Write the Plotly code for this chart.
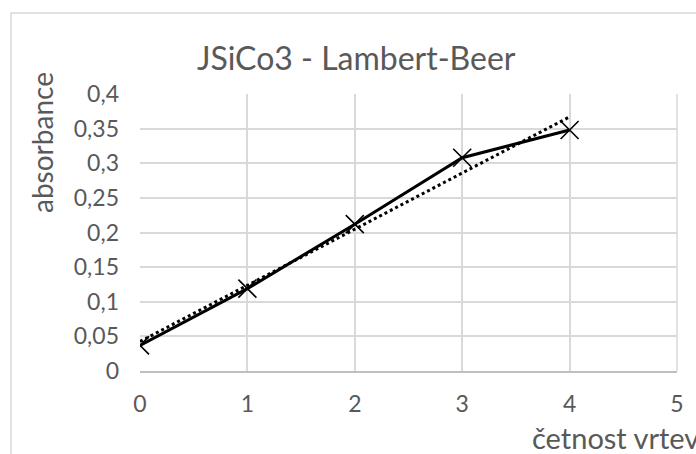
import numpy as np
import plotly.graph_objects as go

# Measurements: number of layers vs. absorbance
vrstvy = [0, 1, 2, 3, 4]
absorbance = [0.037, 0.119, 0.212, 0.308, 0.348]

y_ticks = [0, 0.05, 0.1, 0.15, 0.2, 0.25, 0.3, 0.35, 0.4]
y_tick_labels = ["0", "0,05", "0,1", "0,15", "0,2", "0,25", "0,3", "0,35", "0,4"]
x_ticks = [0, 1, 2, 3, 4, 5]
x_tick_labels = ["0", "1", "2", "3", "4", "5"]

title_text = "JSiCo3 - Lambert-Beer"
y_title = "absorbance"
x_title = "četnost vrtev"

FONT = "Lato"
GREY = "#595959"
GRID = "#d9d9d9"

# linear trend line (least squares) over the measured range
k, q = np.polyfit(vrstvy, absorbance, 1)
trend_x = [min(vrstvy), max(vrstvy)]
trend_y = [k * v + q for v in trend_x]

W, H = 696, 454
L, R, T, B = 140, 19, 94, 83
pw, ph = W - L - R, H - T - B


def px(xp):
    return (xp - L) / pw


def py(yp):
    return (H - B - yp) / ph


fig = go.Figure()
fig.add_trace(go.Scatter(
    x=trend_x, y=trend_y, mode="lines",
    line=dict(color="black", width=3, dash="dot"),
    hoverinfo="skip", showlegend=False,
))
fig.add_trace(go.Scatter(
    x=vrstvy, y=absorbance, mode="lines+markers",
    line=dict(color="black", width=3),
    marker=dict(symbol="x-thin", size=18, line=dict(color="black", width=1.6)),
    showlegend=False,
))

fig.update_layout(
    width=W, height=H,
    margin=dict(l=L, r=R, t=T, b=B),
    paper_bgcolor="white", plot_bgcolor="white",
    font=dict(family=FONT, color=GREY),
    xaxis=dict(
        range=[0, 5], tickvals=x_ticks, ticktext=x_tick_labels,
        showgrid=True, gridcolor=GRID, gridwidth=1.5,
        zeroline=False, showline=True, linecolor="#bfbfbf", linewidth=1.5,
        ticks="", tickfont=dict(size=23, color=GREY, family=FONT),
        ticklabelstandoff=12,
    ),
    yaxis=dict(
        range=[0, 0.4], tickvals=y_ticks, ticktext=y_tick_labels,
        showgrid=True, gridcolor=GRID, gridwidth=1.5,
        zeroline=False, showline=False,
        ticks="", tickfont=dict(size=23, color=GREY, family=FONT),
        ticklabelstandoff=20,
    ),
    shapes=[
        # outer chart frame
        dict(type="rect", xref="paper", yref="paper",
             x0=px(11), x1=px(W + 20), y0=py(H + 20), y1=py(13),
             line=dict(color=GRID, width=1.5), layer="below"),
        # plot-area right edge
        dict(type="line", xref="paper", yref="paper",
             x0=1, x1=1, y0=0, y1=1, line=dict(color=GRID, width=1.5), layer="below"),
    ],
    annotations=[
        dict(text=title_text, xref="paper", yref="paper",
             x=px(356), y=py(57), xanchor="center", yanchor="middle",
             showarrow=False, font=dict(size=32, color=GREY, family=FONT)),
        dict(text=y_title, xref="paper", yref="paper",
             x=px(42), y=py(143), xanchor="center", yanchor="middle",
             textangle=-90, showarrow=False,
             font=dict(size=28, color=GREY, family=FONT)),
        dict(text=x_title, xref="paper", yref="paper",
             x=px(530), y=py(437), xanchor="left", yanchor="middle",
             showarrow=False, font=dict(size=29, color=GREY, family=FONT)),
    ],
)

fig.write_html("out.html")
